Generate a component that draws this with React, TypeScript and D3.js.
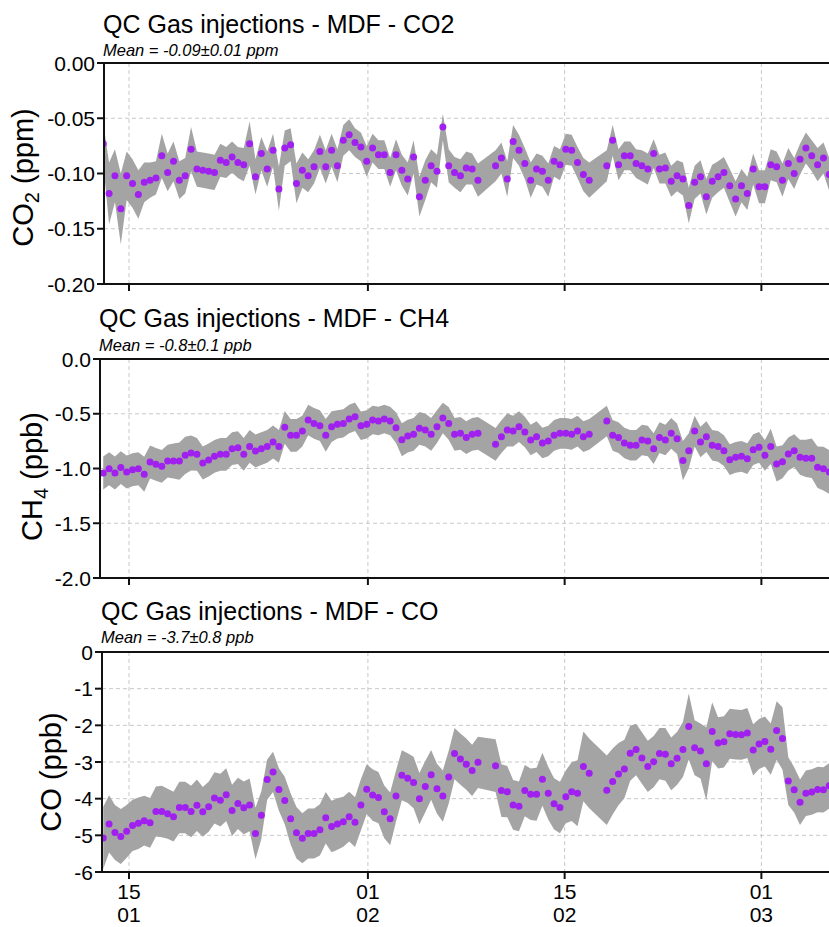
import React, { useEffect, useRef } from "react";
import * as d3 from "d3";

// injections every 10 hours, starting 13 Jan 04:00 (null = no injection)
const START = new Date(2019, 0, 13, 4, 0);
const STEP_HOURS = 10;

const tickDates = [new Date(2019, 0, 15), new Date(2019, 1, 1), new Date(2019, 1, 15), new Date(2019, 2, 1)];
const tickDay = ["15", "01", "15", "01"];
const tickMonth = ["01", "02", "02", "03"];

const co2 = [
  -0.073, -0.118, -0.102, -0.132, -0.102, -0.109, -0.119, -0.108, -0.106, -0.104,
  -0.084, -0.099, -0.089, -0.106, -0.102, -0.078, -0.096, -0.097, -0.098, -0.099,
  -0.088, -0.09, -0.085, -0.09, -0.092, -0.073, -0.103, -0.082, -0.096, -0.079,
  -0.114, -0.077, -0.074, -0.109, -0.097, -0.102, -0.094, -0.08, -0.094, -0.079,
  -0.093, -0.07, -0.065, -0.072, -0.076, -0.089, -0.077, -0.083, -0.083, -0.099,
  -0.083, -0.097, -0.105, -0.085, -0.121, -0.106, -0.093, -0.098, -0.058, -0.093,
  -0.099, -0.102, -0.095, -0.096, -0.106, null, null, -0.093, -0.086, -0.105,
  -0.071, -0.079, -0.091, -0.106, -0.096, -0.098, -0.106, -0.089, -0.092, -0.078,
  -0.079, -0.09, -0.101, -0.106, null, null, -0.093, -0.07, -0.092, -0.084,
  -0.084, -0.091, -0.093, -0.096, -0.082, -0.096, -0.095, -0.107, -0.102, -0.105,
  -0.129, -0.108, -0.103, -0.121, -0.107, -0.103, -0.099, -0.111, -0.123, -0.111,
  -0.118, -0.096, -0.112, -0.112, -0.092, -0.094, -0.106, -0.091, -0.1, -0.087,
  -0.077, -0.084, -0.092, -0.086, -0.101,
];
const co2Sd = [
  0.018, 0.028, 0.024, 0.032, 0.022, 0.022, 0.022, 0.018, 0.016, 0.015,
  0.02, 0.017, 0.018, 0.017, 0.016, 0.02, 0.016, 0.016, 0.016, 0.016,
  0.015, 0.014, 0.014, 0.014, 0.015, 0.02, 0.016, 0.015, 0.016, 0.015,
  0.02, 0.016, 0.015, 0.018, 0.016, 0.015, 0.015, 0.015, 0.015, 0.015,
  0.015, 0.014, 0.014, 0.013, 0.013, 0.014, 0.013, 0.013, 0.013, 0.013,
  0.014, 0.014, 0.015, 0.015, 0.018, 0.018, 0.015, 0.015, 0.012, 0.015,
  0.014, 0.015, 0.015, 0.014, 0.015, 0.015, 0.015, 0.014, 0.014, 0.016,
  0.015, 0.014, 0.014, 0.016, 0.014, 0.014, 0.015, 0.014, 0.014, 0.014,
  0.014, 0.014, 0.015, 0.016, 0.015, 0.015, 0.014, 0.014, 0.014, 0.013,
  0.013, 0.013, 0.014, 0.014, 0.013, 0.013, 0.014, 0.014, 0.014, 0.015,
  0.016, 0.015, 0.015, 0.016, 0.015, 0.014, 0.014, 0.015, 0.016, 0.015,
  0.015, 0.014, 0.015, 0.015, 0.014, 0.014, 0.015, 0.014, 0.014, 0.014,
  0.014, 0.014, 0.015, 0.014, 0.015,
];

const ch4 = [
  -1.041, -1.002, -1.041, -0.992, -1.032, -1.011, -1.002, -1.053, -0.941, -0.962,
  -0.98, -0.932, -0.932, -0.932, -0.88, -0.858, -0.871, -0.95, -0.922, -0.889,
  -0.871, -0.871, -0.819, -0.81, -0.871, -0.798, -0.84, -0.819, -0.798, -0.758,
  -0.798, -0.624, -0.697, -0.697, -0.658, -0.557, -0.588, -0.609, -0.697, -0.618,
  -0.597, -0.588, -0.548, -0.527, -0.609, -0.597, -0.557, -0.566, -0.548, -0.566,
  -0.627, -0.737, -0.704, -0.688, -0.633, -0.648, -0.688, -0.618, -0.539, -0.588,
  -0.688, -0.679, -0.718, -0.688, -0.679, null, null, -0.779, -0.709, -0.648,
  -0.658, -0.618, -0.667, -0.74, -0.709, -0.767, -0.749, -0.697, -0.679, -0.679,
  -0.688, -0.658, -0.709, -0.688, null, null, -0.566, -0.697, -0.718, -0.767,
  -0.788, -0.788, -0.74, -0.749, -0.819, -0.718, -0.74, -0.679, -0.728, -0.928,
  -0.837, -0.658, -0.758, -0.709, -0.788, -0.798, -0.837, -0.919, -0.898, -0.889,
  -0.91, -0.828, -0.807, -0.88, -0.798, -0.959, -0.938, -0.868, -0.837, -0.898,
  -0.907, -0.907, -0.989, -1.002, -1.032,
];
const ch4Sd = [
  0.15, 0.15, 0.15, 0.15, 0.15, 0.15, 0.15, 0.16, 0.15, 0.15,
  0.15, 0.15, 0.16, 0.17, 0.17, 0.16, 0.15, 0.15, 0.15, 0.15,
  0.15, 0.15, 0.15, 0.15, 0.15, 0.15, 0.15, 0.15, 0.15, 0.15,
  0.15, 0.15, 0.15, 0.15, 0.14, 0.14, 0.14, 0.14, 0.15, 0.14,
  0.13, 0.13, 0.13, 0.13, 0.13, 0.13, 0.13, 0.13, 0.13, 0.13,
  0.14, 0.15, 0.15, 0.15, 0.15, 0.15, 0.15, 0.15, 0.14, 0.15,
  0.15, 0.15, 0.15, 0.15, 0.15, 0.15, 0.15, 0.15, 0.15, 0.15,
  0.14, 0.14, 0.14, 0.14, 0.14, 0.14, 0.14, 0.14, 0.14, 0.14,
  0.14, 0.14, 0.14, 0.14, 0.14, 0.14, 0.14, 0.14, 0.14, 0.14,
  0.14, 0.14, 0.14, 0.14, 0.14, 0.14, 0.14, 0.14, 0.14, 0.18,
  0.16, 0.14, 0.14, 0.14, 0.14, 0.14, 0.14, 0.14, 0.14, 0.14,
  0.14, 0.14, 0.14, 0.14, 0.16, 0.16, 0.15, 0.15, 0.15, 0.16,
  0.17, 0.18, 0.19, 0.2, 0.2,
];

const co = [
  -5.07, -4.69, -4.92, -5.03, -4.89, -4.73, -4.67, -4.6, -4.66, -4.35,
  -4.35, -4.41, -4.49, -4.24, -4.24, -4.35, -4.18, -4.36, -4.22, -3.98,
  -4.04, -3.89, -4.32, -4.13, -4.25, -4.17, -4.95, -4.45, -3.48, -3.27,
  -3.75, -4.05, -4.55, -4.93, -5.08, -4.95, -4.95, -4.85, -4.52, -4.76,
  -4.69, -4.63, -4.49, -4.64, -4.17, -3.74, -3.9, -3.97, -4.36, -4.55,
  -3.93, -3.36, -3.44, -3.56, -4.0, -3.67, -3.35, -3.73, -3.93, -3.41,
  -2.77, -2.92, -3.06, -3.23, -3.01, null, null, -3.1, -3.78, -3.81,
  -4.17, -4.21, -3.78, -3.88, -3.88, -3.47, -3.85, -4.14, -4.24, -3.95,
  -3.81, -3.85, -3.12, -3.31, null, null, -3.77, -3.53, -3.33, -3.19,
  -2.76, -2.66, -2.89, -3.12, -2.99, -2.77, -2.79, -3.05, -2.9, -2.66,
  -2.03, -2.61, -2.7, -3.05, -2.17, -2.48, -2.45, -2.23, -2.25, -2.26,
  -2.21, -2.67, -2.51, -2.44, -2.65, -2.14, -2.36, -3.52, -3.76, -4.1,
  -3.85, -3.82, -3.75, -3.76, -3.65,
];
const coSd = [
  0.85, 0.78, 0.75, 0.75, 0.72, 0.7, 0.7, 0.68, 0.68, 0.68,
  0.7, 0.68, 0.68, 0.7, 0.7, 0.7, 0.7, 0.68, 0.68, 0.7,
  0.72, 0.72, 0.7, 0.7, 0.72, 0.72, 0.7, 0.65, 0.55, 0.55,
  0.58, 0.65, 0.7, 0.7, 0.68, 0.68, 0.68, 0.7, 0.7, 0.7,
  0.7, 0.68, 0.68, 0.68, 0.7, 0.68, 0.7, 0.7, 0.72, 0.72,
  0.7, 0.68, 0.68, 0.7, 0.7, 0.7, 0.68, 0.68, 0.7, 0.72,
  0.7, 0.7, 0.7, 0.7, 0.7, 0.7, 0.7, 0.72, 0.72, 0.7,
  0.68, 0.68, 0.7, 0.7, 0.72, 0.72, 0.72, 0.7, 0.7, 0.72,
  0.8, 0.9, 0.95, 0.95, 0.95, 0.95, 0.95, 0.9, 0.85, 0.8,
  0.75, 0.7, 0.7, 0.7, 0.7, 0.7, 0.72, 0.72, 0.72, 0.75,
  0.9, 0.75, 0.75, 1.0, 0.8, 0.7, 0.7, 0.68, 0.68, 0.68,
  0.68, 0.7, 0.68, 0.68, 0.7, 0.8, 0.85, 0.65, 0.62, 0.62,
  0.62, 0.62, 0.62, 0.62, 0.62,
];

const co2Ticks = [0, -0.05, -0.1, -0.15, -0.2];
const co2TickLabels = ["0.00", "-0.05", "-0.10", "-0.15", "-0.20"];
const ch4Ticks = [0, -0.5, -1, -1.5, -2];
const ch4TickLabels = ["0.0", "-0.5", "-1.0", "-1.5", "-2.0"];
const coTicks = [0, -1, -2, -3, -4, -5, -6];
const coTickLabels = ["0", "-1", "-2", "-3", "-4", "-5", "-6"];

const W = 829;
const H = 927;
const FONT = "'Liberation Sans', Arial, sans-serif";

const panels = [
  {
    id: "co2", title: "QC Gas injections - MDF - CO2", mean: "Mean = -0.09±0.01 ppm",
    label: ["CO", "2", " (ppm)"], values: co2, sd: co2Sd, domain: [-0.2, 0],
    ticks: co2Ticks, tickLabels: co2TickLabels,
    left: 104, top: 63, bottom: 284, titleY: 33, meanY: 56, labelX: 33, labelDy: 4, dateLabels: false,
  },
  {
    id: "ch4", title: "QC Gas injections - MDF - CH4", mean: "Mean = -0.8±0.1 ppb",
    label: ["CH", "4", " (ppb)"], values: ch4, sd: ch4Sd, domain: [-2, 0],
    ticks: ch4Ticks, tickLabels: ch4TickLabels,
    left: 100, top: 359, bottom: 578, titleY: 327, meanY: 351, labelX: 42, labelDy: 8, dateLabels: false,
  },
  {
    id: "co", title: "QC Gas injections - MDF - CO", mean: "Mean = -3.7±0.8 ppb",
    label: ["CO", "", " (ppb)"], values: co, sd: coSd, domain: [-6, 0],
    ticks: coTicks, tickLabels: coTickLabels,
    left: 102, top: 652, bottom: 872, titleY: 620, meanY: 643, labelX: 61, labelDy: 10, dateLabels: true,
  },
];

export default function App() {
  const ref = useRef<SVGSVGElement | null>(null);

  useEffect(() => {
    const svg = d3.select(ref.current);
    svg.selectAll("*").remove();

    const x = d3
      .scaleTime()
      .domain([tickDates[0], tickDates[1]])
      .range([129, 367.9]);

    const timeOf = (i: number) => new Date(START.getTime() + i * STEP_HOURS * 3600 * 1000);

    panels.forEach((p) => {
      const y = d3.scaleLinear().domain(p.domain).range([p.bottom, p.top]);
      const g = svg.append("g");

      g.append("clipPath")
        .attr("id", "clip-" + p.id)
        .append("rect")
        .attr("x", p.left)
        .attr("y", p.top)
        .attr("width", W - p.left)
        .attr("height", p.bottom - p.top);

      const inner = g.append("g").attr("clip-path", `url(#clip-${p.id})`);

      // grid
      inner
        .selectAll(".hgrid")
        .data(p.ticks)
        .enter()
        .append("line")
        .attr("x1", p.left)
        .attr("x2", W)
        .attr("y1", (d) => y(d))
        .attr("y2", (d) => y(d))
        .attr("stroke", "#c8c8c8")
        .attr("stroke-dasharray", "4,3");
      inner
        .selectAll(".vgrid")
        .data(tickDates)
        .enter()
        .append("line")
        .attr("x1", (d) => x(d))
        .attr("x2", (d) => x(d))
        .attr("y1", p.top)
        .attr("y2", p.bottom)
        .attr("stroke", "#c8c8c8")
        .attr("stroke-dasharray", "4,3");

      const pts = p.values
        .map((v, i) => ({ t: timeOf(i), v, s: p.sd[i] }))
        .filter((d) => d.v !== null) as { t: Date; v: number; s: number }[];

      const area = d3
        .area<{ t: Date; v: number; s: number }>()
        .x((d) => x(d.t))
        .y0((d) => y(d.v - d.s))
        .y1((d) => y(d.v + d.s));

      inner.append("path").attr("d", area(pts)).attr("fill", "#a4a4a4");

      inner
        .selectAll("circle")
        .data(pts)
        .enter()
        .append("circle")
        .attr("cx", (d) => x(d.t))
        .attr("cy", (d) => y(d.v))
        .attr("r", 3.5)
        .attr("fill", "#a020f0");

      // frame
      const axis = g.append("g").attr("stroke", "#111").attr("stroke-width", 2);
      axis.append("line").attr("x1", p.left).attr("x2", W).attr("y1", p.top).attr("y2", p.top);
      axis.append("line").attr("x1", p.left).attr("x2", W).attr("y1", p.bottom).attr("y2", p.bottom);
      axis.append("line").attr("x1", p.left).attr("x2", p.left).attr("y1", p.top - 1).attr("y2", p.bottom + 1);

      p.ticks.forEach((t, k) => {
        axis.append("line")
          .attr("x1", p.left - 7)
          .attr("x2", p.left)
          .attr("y1", y(t))
          .attr("y2", y(t));
        g.append("text")
          .attr("x", p.left - 9)
          .attr("y", y(t))
          .attr("dy", "0.36em")
          .attr("text-anchor", "end")
          .attr("font-family", FONT)
          .attr("font-size", 21)
          .text(p.tickLabels[k]);
      });

      tickDates.forEach((d, k) => {
        axis.append("line")
          .attr("x1", x(d))
          .attr("x2", x(d))
          .attr("y1", p.bottom)
          .attr("y2", p.bottom + 7);
        if (p.dateLabels) {
          g.append("text")
            .attr("x", x(d))
            .attr("y", p.bottom + 27)
            .attr("text-anchor", "middle")
            .attr("font-family", FONT)
            .attr("font-size", 21)
            .text(tickDay[k]);
          g.append("text")
            .attr("x", x(d))
            .attr("y", p.bottom + 50)
            .attr("text-anchor", "middle")
            .attr("font-family", FONT)
            .attr("font-size", 21)
            .text(tickMonth[k]);
        }
      });

      g.append("text")
        .attr("x", p.left - 1)
        .attr("y", p.titleY)
        .attr("font-family", FONT)
        .attr("font-size", 25)
        .text(p.title);
      g.append("text")
        .attr("x", p.left - 1)
        .attr("y", p.meanY)
        .attr("font-family", FONT)
        .attr("font-size", 16.5)
        .attr("font-style", "italic")
        .text(p.mean);

      const lab = g
        .append("text")
        .attr("transform", `translate(${p.labelX},${(p.top + p.bottom) / 2 + p.labelDy}) rotate(-90)`)
        .attr("text-anchor", "middle")
        .attr("font-family", FONT)
        .attr("font-size", 29);
      lab.append("tspan").text(p.label[0]);
      if (p.label[1]) {
        lab.append("tspan").attr("font-size", 20).attr("dy", 6).text(p.label[1]);
        lab.append("tspan").attr("dy", -6).text(p.label[2]);
      } else {
        lab.append("tspan").text(p.label[2]);
      }
    });
  }, []);

  return (
    <svg
      ref={ref}
      width={W}
      height={H}
      style={{ position: "absolute", left: 0, top: 0, background: "#fff" }}
    />
  );
}
